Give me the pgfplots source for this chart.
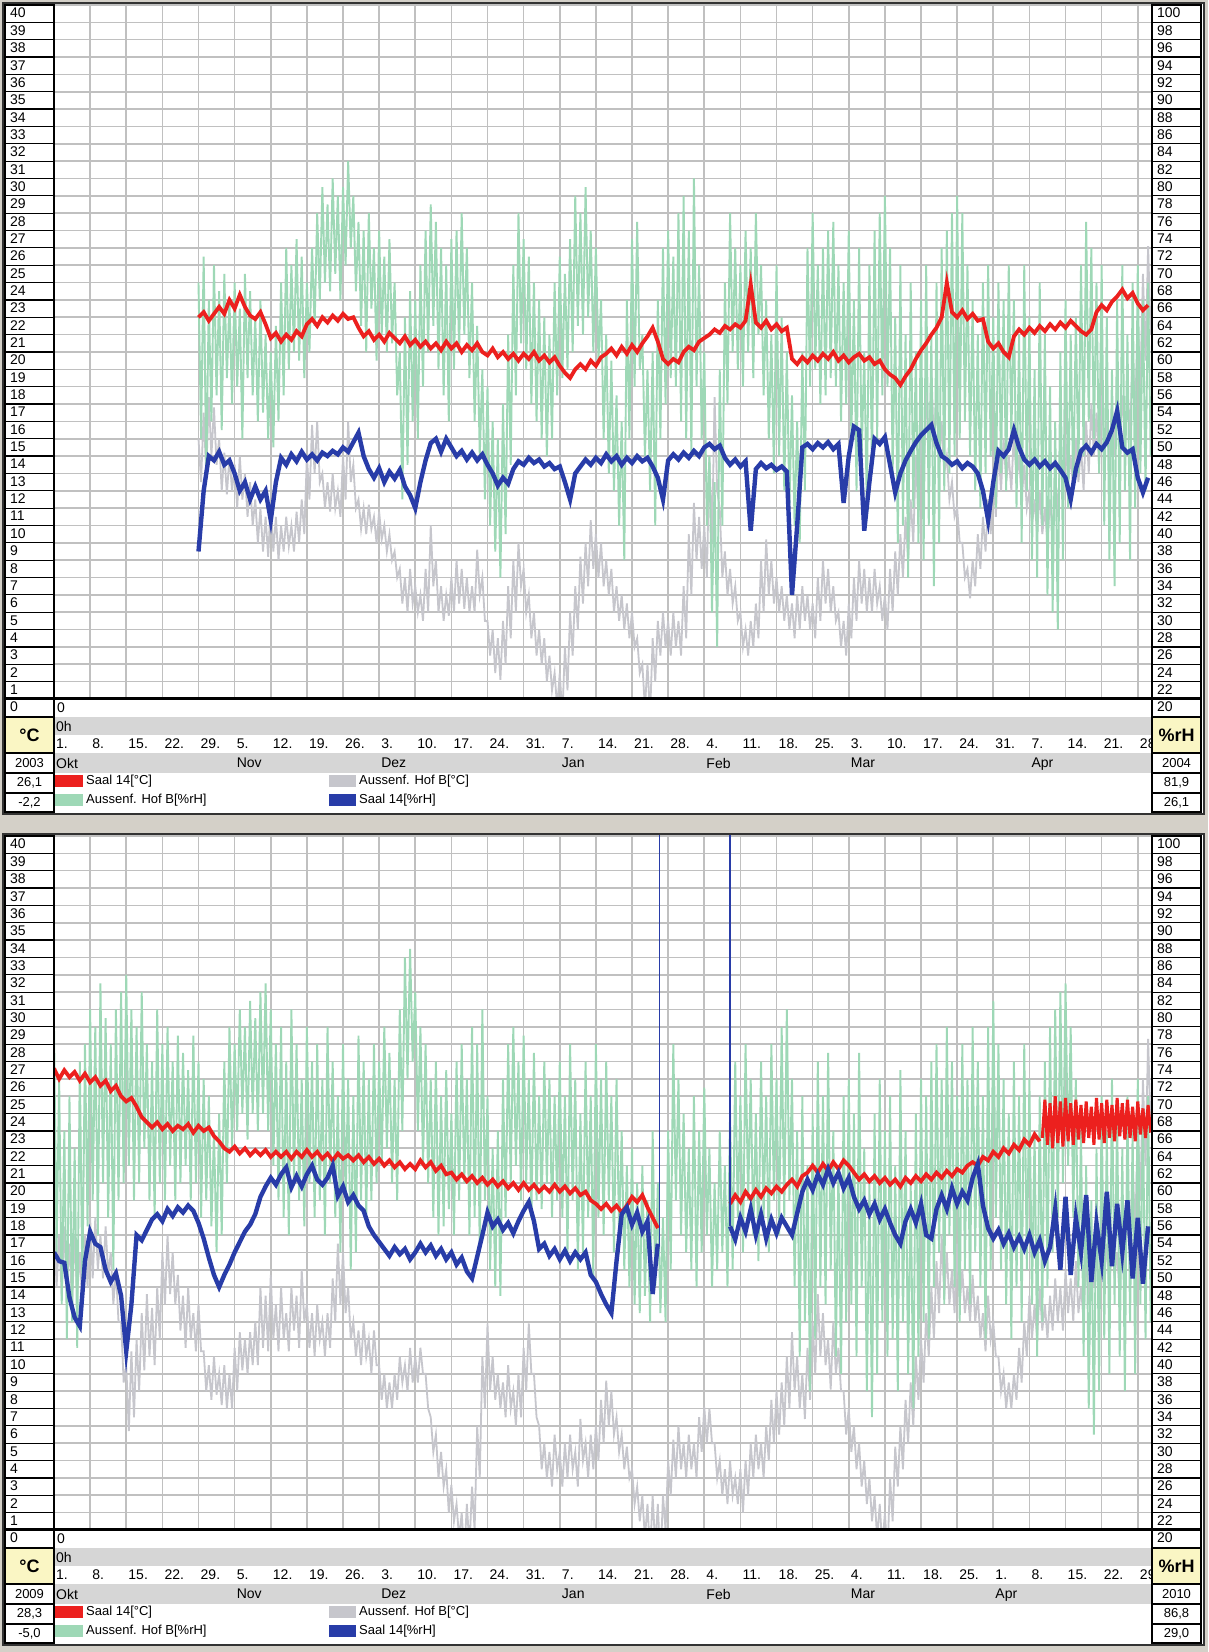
\documentclass[border=0pt]{standalone}
\usepackage{fontspec}
\setmainfont{Liberation Sans}
\usepackage{pgfplots}
\usepackage{pgfplotstable}
\pgfplotsset{compat=1.18}

\definecolor{winbg}{RGB}{212,208,200}
\definecolor{gridc}{RGB}{192,192,192}
\definecolor{stripc}{RGB}{214,214,214}
\definecolor{boxy}{RGB}{250,246,196}
\definecolor{cred}{RGB}{236,32,30}
\definecolor{cgreen}{RGB}{158,216,182}
\definecolor{cgray}{RGB}{198,198,204}
\definecolor{cblue}{RGB}{40,60,168}

\newcommand{\tfs}{\fontsize{14}{14}\selectfont}
\newcommand{\lfs}{\fontsize{13}{13}\selectfont}

% ---------- 2003/04 ----------
\pgfplotstableread[row sep=\\]{y\\
68\\50\\71\\46\\66\\52\\70\\55\\67\\51\\69\\57\\66\\54\\68\\56\\65\\50\\69\\57\\
67\\55\\64\\52\\66\\53\\62\\50\\60\\49\\63\\52\\68\\55\\72\\58\\70\\60\\73\\59\\
71\\57\\68\\60\\72\\63\\76\\66\\79\\68\\77\\67\\80\\69\\78\\66\\79\\70\\82\\72\\
78\\67\\75\\63\\74\\60\\76\\65\\72\\59\\74\\62\\71\\60\\73\\61\\68\\55\\60\\43\\
64\\47\\67\\52\\66\\50\\70\\56\\74\\60\\77\\63\\75\\58\\72\\55\\70\\52\\73\\58\\
74\\60\\76\\62\\72\\57\\68\\52\\63\\48\\58\\43\\56\\40\\52\\37\\50\\34\\54\\39\\
62\\47\\70\\55\\76\\61\\73\\58\\71\\54\\68\\52\\66\\50\\64\\48\\62\\50\\68\\55\\
71\\57\\69\\58\\73\\60\\78\\63\\76\\62\\79\\64\\74\\60\\72\\59\\66\\50\\62\\46\\
59\\44\\55\\40\\52\\36\\66\\50\\73\\56\\75\\58\\62\\48\\58\\44\\60\\40\\66\\50\\
72\\54\\74\\57\\71\\56\\76\\52\\78\\50\\74\\48\\80\\56\\70\\50\\60\\40\\48\\30\\
45\\26\\58\\40\\68\\54\\76\\60\\72\\58\\70\\56\\74\\60\\72\\57\\76\\62\\70\\55\\
66\\50\\62\\46\\70\\48\\64\\44\\60\\42\\55\\40\\52\\38\\60\\44\\72\\56\\76\\58\\
70\\54\\72\\55\\74\\57\\75\\56\\70\\52\\68\\54\\74\\50\\66\\44\\72\\48\\60\\42\\
70\\46\\74\\50\\76\\55\\78\\56\\72\\46\\64\\38\\70\\40\\62\\34\\68\\42\\60\\38\\
66\\36\\70\\40\\62\\33\\68\\38\\72\\44\\74\\46\\76\\48\\78\\50\\76\\52\\70\\48\\
66\\44\\62\\42\\68\\46\\70\\48\\64\\42\\68\\46\\66\\44\\70\\50\\66\\42\\62\\38\\
70\\44\\64\\36\\58\\34\\68\\40\\62\\32\\56\\30\\52\\28\\60\\36\\66\\42\\62\\44\\
64\\46\\70\\48\\75\\52\\72\\50\\68\\46\\70\\40\\64\\36\\58\\33\\66\\38\\70\\44\\
62\\36\\68\\42\\70\\46\\66\\44\\68\\48\\
}\topgreen

\pgfplotstableread[row sep=\\]{y\\
15.0\\12.5\\16.5\\13.0\\17.4\\14.0\\16.8\\13.5\\15.0\\12.0\\14.2\\11.8\\14.0\\12.0\\13.5\\11.0\\14.0\\11.5\\13.0\\10.5\\
12.5\\10.0\\11.5\\9.0\\11.0\\8.5\\10.5\\8.2\\11.3\\8.5\\10.5\\8.0\\10.0\\8.5\\10.5\\8.8\\10.0\\8.5\\10.8\\9.0\\
11.5\\9.5\\14.0\\11.5\\15.8\\13.0\\16.0\\12.5\\13.0\\11.0\\12.5\\10.8\\13.0\\11.0\\12.0\\10.5\\14.0\\11.5\\16.0\\12.5\\
13.5\\11.0\\11.5\\9.8\\11.0\\9.5\\11.2\\9.8\\10.5\\9.0\\10.8\\9.2\\10.0\\8.5\\9.5\\8.0\\8.5\\7.0\\7.5\\5.5\\
7.0\\5.0\\7.5\\5.5\\6.5\\5.0\\6.0\\4.5\\7.5\\5.0\\10.0\\6.5\\8.0\\5.0\\6.5\\4.5\\6.0\\4.8\\7.0\\5.0\\
8.0\\5.5\\7.5\\5.2\\7.0\\5.0\\6.5\\5.0\\8.6\\6.0\\7.0\\4.5\\4.5\\2.5\\4.0\\1.5\\3.5\\1.1\\4.5\\2.0\\
6.5\\3.5\\8.0\\5.0\\9.0\\6.5\\7.5\\5.0\\6.0\\3.5\\5.0\\2.5\\4.0\\2.0\\3.5\\1.0\\2.5\\0.5\\1.5\\-0.5\\
1.5\\-1.0\\3.0\\0.5\\5.0\\2.5\\6.5\\4.0\\8.2\\5.5\\9.0\\6.5\\10.3\\7.5\\9.5\\7.0\\9.0\\6.5\\8.0\\6.0\\
7.5\\5.0\\6.5\\4.5\\6.0\\4.0\\5.5\\3.5\\5.0\\3.0\\3.5\\1.5\\2.0\\-0.5\\2.0\\-1.0\\3.5\\1.0\\4.5\\2.5\\
5.0\\3.0\\4.5\\2.5\\5.0\\3.0\\4.5\\2.5\\6.5\\3.5\\9.5\\6.0\\11.3\\8.0\\10.5\\7.5\\10.0\\7.0\\14.0\\9.0\\
17.4\\12.0\\11.0\\7.0\\8.5\\6.0\\7.5\\5.5\\6.5\\4.5\\5.0\\3.0\\4.0\\2.5\\4.5\\3.0\\5.5\\3.5\\8.0\\5.0\\
9.2\\6.0\\8.0\\5.5\\7.0\\5.0\\6.5\\4.5\\6.0\\4.0\\5.5\\3.5\\6.0\\4.0\\6.5\\4.5\\6.0\\4.0\\5.5\\3.5\\
7.0\\4.5\\8.0\\5.5\\7.5\\5.0\\6.5\\4.5\\5.0\\3.0\\4.5\\2.5\\5.5\\3.5\\7.0\\4.5\\8.0\\5.5\\7.5\\5.0\\
7.0\\5.0\\7.5\\5.5\\6.5\\4.5\\6.0\\4.0\\7.5\\5.0\\8.5\\6.0\\9.5\\7.0\\10.5\\8.0\\11.5\\9.0\\14.0\\10.5\\
16.0\\12.5\\18.0\\14.0\\19.0\\14.5\\17.5\\13.5\\16.0\\13.0\\14.0\\11.5\\12.5\\10.5\\11.0\\9.0\\9.0\\7.0\\7.5\\5.8\\
8.0\\6.5\\9.5\\7.5\\10.5\\8.5\\11.5\\9.5\\13.0\\10.5\\14.5\\12.0\\15.0\\12.5\\14.0\\12.0\\15.5\\12.5\\14.0\\11.5\\
13.5\\11.0\\12.0\\10.0\\11.5\\9.5\\12.0\\9.5\\11.0\\9.0\\11.5\\9.5\\13.0\\10.5\\14.5\\12.0\\15.0\\12.5\\14.0\\12.0\\
15.0\\12.5\\14.5\\12.0\\16.0\\13.0\\17.0\\14.0\\16.5\\13.5\\17.5\\14.5\\16.0\\13.5\\17.0\\14.0\\18.5\\15.0\\17.5\\14.5\\
18.0\\15.0\\20.0\\16.5\\22.0\\18.0\\24.5\\19.5\\26.1\\21.0\\
}\topgray

\pgfplotstableread[row sep=\\]{y\\
22.0\\22.3\\21.8\\22.2\\22.6\\22.2\\23.0\\22.5\\23.3\\22.6\\
22.1\\21.9\\22.3\\21.6\\20.8\\21.1\\20.6\\21.0\\20.7\\21.2\\
20.9\\21.6\\21.9\\21.5\\22.0\\21.7\\22.1\\21.8\\22.2\\21.9\\
22.0\\21.4\\20.9\\21.2\\20.7\\21.0\\20.6\\21.1\\20.8\\20.5\\
20.9\\20.4\\20.7\\20.3\\20.6\\20.2\\20.5\\20.1\\20.6\\20.2\\
20.5\\20.0\\20.4\\20.1\\20.5\\20.0\\19.8\\20.2\\19.7\\20.0\\
19.6\\19.9\\19.5\\19.9\\19.6\\20.0\\19.5\\19.8\\19.4\\19.7\\
19.2\\18.8\\18.5\\19.0\\19.3\\19.0\\19.5\\19.2\\19.7\\19.9\\
20.2\\19.8\\20.3\\19.9\\20.4\\20.0\\20.5\\20.9\\21.4\\20.6\\
19.6\\19.3\\19.6\\19.4\\20.0\\20.3\\20.1\\20.6\\20.8\\21.0\\
21.3\\21.1\\21.5\\21.3\\21.6\\21.4\\21.8\\23.9\\21.7\\21.4\\
21.8\\21.3\\21.6\\21.2\\21.4\\19.6\\19.3\\19.7\\19.4\\19.8\\
19.5\\19.9\\19.6\\20.0\\19.5\\19.8\\19.4\\19.7\\19.9\\19.5\\
19.7\\19.3\\19.5\\19.0\\18.7\\18.5\\18.1\\18.6\\19.0\\19.6\\
20.1\\20.5\\21.0\\21.4\\22.0\\24.0\\22.3\\22.0\\22.4\\21.9\\
22.2\\21.8\\21.9\\20.6\\20.2\\20.5\\20.0\\19.7\\20.9\\21.3\\
21.0\\21.4\\21.1\\21.5\\21.2\\21.6\\21.3\\21.7\\21.4\\21.8\\
21.5\\21.2\\21.0\\21.3\\22.3\\22.7\\22.4\\22.9\\23.2\\23.6\\
23.1\\23.4\\22.8\\22.4\\22.7\\
}\topred

\pgfplotstableread[row sep=\\]{y\\
37\\44\\48\\47.5\\48.5\\47\\47.5\\46\\44\\45\\
43\\44.5\\43\\44\\40.6\\45\\47.8\\47\\48.2\\47.4\\
48.5\\47.6\\48.2\\47.5\\48.4\\48\\48.6\\48.2\\49\\48.5\\
49.6\\50.7\\48\\46.5\\45.5\\46.6\\45\\46.2\\45.4\\46.4\\
44.5\\43.5\\42\\45\\47.5\\49.5\\50\\48.5\\50\\49\\
48\\48.6\\47.6\\48.4\\47.5\\48.2\\47\\46\\44.6\\45.5\\
44.8\\46.5\\47.4\\47\\47.8\\47.2\\47.6\\46.8\\47.2\\46.5\\
46.8\\45\\43\\46\\46.8\\47.6\\47\\47.8\\47.2\\48.2\\
47.4\\48\\47\\47.8\\47.2\\48\\47.4\\47.8\\46.8\\45.5\\
43\\47.5\\48.2\\47.6\\48.4\\47.8\\48.6\\48\\49\\49.4\\
48.8\\49.2\\47.8\\47\\47.6\\46.8\\47.4\\39.4\\46.5\\47.2\\
46.6\\47\\46.4\\46.8\\46.2\\32\\40\\49\\49.4\\48.8\\
49.5\\49\\49.6\\48.8\\49.4\\42.6\\48\\51.4\\51\\39.4\\
45\\50\\49.4\\50.2\\47\\43.8\\46\\47.5\\48.6\\49.6\\
50.4\\51\\51.6\\49.5\\48\\47.6\\47\\47.4\\46.6\\47.2\\
46.8\\46\\44\\40.6\\45\\48.6\\48\\48.8\\51\\49\\
47.6\\47\\47.6\\46.8\\47.4\\46.6\\47.2\\46.4\\45.5\\43\\
46.5\\48.6\\49.2\\48.4\\49.4\\48.8\\49.6\\51\\53.2\\49\\
48.4\\48.8\\45.5\\43.8\\45.5\\
}\topblue

% ---------- 2009/10 ----------
\pgfplotstableread[row sep=\\]{y\\
78\\52\\72\\46\\66\\42\\70\\44\\64\\41\\74\\48\\76\\55\\80\\58\\78\\54\\83\\60\\
79\\56\\76\\50\\80\\58\\82\\60\\84\\62\\80\\58\\78\\60\\82\\64\\76\\58\\74\\56\\
80\\60\\76\\58\\78\\62\\74\\58\\77\\60\\75\\62\\73\\58\\77\\60\\74\\56\\72\\58\\
70\\55\\66\\52\\68\\54\\74\\60\\78\\64\\76\\66\\80\\68\\78\\65\\81\\68\\79\\66\\
82\\68\\83\\66\\80\\62\\76\\58\\78\\56\\74\\54\\80\\60\\76\\58\\72\\55\\78\\60\\
74\\56\\76\\58\\72\\54\\78\\60\\74\\56\\70\\52\\76\\58\\72\\50\\70\\52\\77\\58\\
74\\56\\72\\58\\76\\60\\74\\62\\78\\64\\75\\60\\72\\58\\80\\66\\86\\72\\87\\74\\
82\\66\\78\\62\\76\\60\\72\\56\\74\\54\\70\\55\\73\\57\\68\\54\\74\\58\\76\\60\\
72\\54\\78\\56\\76\\52\\80\\58\\70\\50\\64\\48\\66\\47\\72\\56\\76\\60\\78\\62\\
74\\58\\77\\60\\72\\56\\75\\58\\70\\57\\74\\60\\72\\56\\70\\58\\74\\56\\70\\52\\
76\\58\\72\\50\\68\\52\\74\\56\\70\\49\\76\\56\\72\\54\\74\\58\\70\\52\\72\\54\\
66\\50\\62\\48\\64\\46\\60\\45\\62\\47\\58\\44\\66\\48\\60\\45\\56\\44\\66\\50\\
76\\58\\72\\54\\68\\52\\64\\50\\70\\48\\66\\52\\71\\54\\64\\48\\60\\50\\66\\52\\
62\\48\\68\\50\\74\\56\\70\\52\\76\\58\\72\\54\\68\\51\\74\\56\\70\\52\\76\\58\\
72\\54\\78\\56\\80\\58\\72\\48\\66\\40\\70\\44\\62\\36\\68\\42\\74\\48\\70\\46\\
75\\50\\66\\40\\62\\38\\70\\44\\72\\46\\68\\40\\75\\48\\64\\36\\60\\33\\68\\38\\
72\\44\\66\\40\\70\\42\\62\\36\\73\\44\\66\\38\\60\\34\\68\\40\\72\\44\\70\\42\\
74\\48\\76\\52\\72\\46\\78\\54\\74\\48\\70\\44\\76\\50\\72\\46\\78\\52\\74\\48\\
70\\42\\78\\50\\81\\56\\76\\50\\72\\46\\68\\42\\74\\48\\70\\44\\76\\50\\72\\46\\
66\\40\\70\\44\\74\\48\\78\\52\\80\\56\\82\\60\\83\\62\\78\\56\\72\\48\\66\\40\\
62\\34\\58\\31\\64\\36\\70\\42\\66\\38\\72\\46\\68\\40\\64\\36\\70\\44\\66\\38\\
72\\46\\68\\42\\70\\44\\
}\botgreen

\pgfplotstableread[row sep=\\]{y\\
18.0\\14.0\\17.0\\13.5\\17.5\\14.0\\16.5\\13.0\\17.0\\13.5\\16.0\\13.0\\17.0\\14.0\\18.0\\14.5\\18.0\\15.0\\17.0\\14.5\\
17.5\\14.7\\16.0\\13.0\\15.0\\12.0\\12.0\\8.5\\9.5\\5.7\\10.3\\6.5\\11.0\\8.0\\12.5\\9.2\\13.6\\10.0\\12.8\\9.5\\
14.0\\11.0\\16.0\\13.0\\17.0\\13.6\\16.0\\13.0\\14.7\\11.5\\13.5\\10.5\\14.0\\11.0\\12.5\\10.3\\13.0\\10.3\\10.3\\8.0\\
9.5\\7.5\\10.0\\7.8\\9.0\\7.2\\9.5\\7.0\\9.0\\7.0\\10.5\\8.0\\11.4\\9.2\\11.0\\9.0\\11.4\\9.5\\12.0\\9.5\\
14.0\\10.5\\13.5\\10.3\\14.7\\11.0\\13.0\\10.3\\14.0\\11.0\\12.5\\10.3\\14.0\\11.5\\13.5\\10.5\\15.0\\12.0\\13.0\\10.5\\
12.5\\10.0\\13.0\\11.0\\12.0\\10.0\\12.5\\10.5\\14.5\\12.0\\16.5\\13.0\\16.0\\12.5\\14.0\\11.0\\12.0\\10.0\\11.5\\9.5\\
12.0\\10.0\\11.0\\9.0\\11.5\\9.5\\9.5\\7.5\\9.0\\7.0\\8.5\\7.0\\9.0\\7.5\\10.0\\8.5\\9.5\\8.0\\10.5\\8.5\\
10.0\\8.5\\10.5\\9.0\\9.0\\7.0\\6.5\\4.5\\5.5\\3.0\\4.5\\2.5\\3.5\\1.0\\2.6\\0.5\\1.5\\-0.5\\1.0\\-1.5\\
1.5\\-1.0\\2.5\\0.0\\6.0\\3.0\\10.0\\7.0\\11.9\\8.0\\10.0\\7.5\\9.0\\7.0\\8.5\\6.5\\9.5\\7.0\\8.0\\6.0\\
9.0\\6.5\\10.5\\8.0\\11.9\\9.0\\9.0\\6.5\\6.0\\3.5\\5.0\\3.0\\4.5\\2.5\\5.5\\3.5\\4.5\\2.5\\5.0\\3.0\\
5.5\\3.5\\4.5\\2.5\\6.4\\4.0\\5.0\\3.0\\5.5\\3.5\\6.0\\4.0\\7.5\\5.0\\8.6\\6.0\\8.0\\5.5\\6.5\\4.5\\
5.5\\3.5\\4.8\\3.0\\3.5\\1.5\\2.5\\0.5\\2.0\\-0.5\\1.5\\-1.5\\2.0\\-1.0\\1.5\\-2.0\\2.0\\0.0\\4.0\\2.0\\
5.2\\3.0\\6.0\\3.5\\5.0\\3.0\\5.5\\3.5\\5.0\\3.0\\6.5\\4.5\\7.1\\5.0\\7.0\\5.0\\5.0\\3.0\\4.0\\2.0\\
3.5\\1.5\\4.0\\2.0\\3.0\\1.5\\3.5\\1.0\\4.0\\2.0\\5.0\\3.0\\5.5\\3.5\\5.0\\3.0\\6.0\\4.0\\7.5\\5.0\\
8.0\\5.5\\8.5\\6.0\\10.0\\7.0\\11.4\\8.0\\10.0\\7.0\\9.0\\6.4\\10.5\\7.5\\12.0\\9.0\\13.6\\10.0\\12.5\\9.5\\
11.0\\8.1\\12.0\\9.0\\10.5\\8.0\\8.0\\5.5\\7.0\\4.5\\6.0\\3.5\\5.0\\2.5\\4.0\\1.5\\3.0\\0.5\\2.0\\-0.5\\
1.5\\-1.0\\1.0\\-1.5\\3.0\\0.5\\4.8\\2.5\\6.0\\3.5\\7.5\\5.0\\8.5\\6.0\\10.0\\7.5\\11.0\\8.5\\12.5\\10.0\\
14.0\\11.0\\15.5\\12.5\\17.0\\13.5\\16.0\\13.0\\15.0\\12.5\\16.5\\13.0\\15.0\\12.5\\14.0\\12.0\\14.7\\12.0\\13.5\\11.0\\
12.5\\10.3\\13.5\\11.0\\12.0\\10.0\\10.0\\8.0\\9.0\\7.0\\8.5\\7.0\\9.0\\7.5\\10.5\\8.5\\12.0\\10.0\\13.5\\11.0\\
13.0\\11.0\\14.0\\11.5\\13.0\\11.0\\13.5\\11.5\\14.5\\12.0\\14.0\\11.5\\15.0\\12.5\\14.5\\12.0\\15.5\\12.5\\14.0\\12.0\\
16.0\\13.0\\17.0\\14.0\\16.0\\13.5\\17.5\\14.5\\16.5\\14.0\\17.0\\14.5\\16.0\\13.5\\17.5\\14.5\\19.0\\16.0\\21.0\\17.0\\
23.5\\19.0\\26.0\\21.0\\28.3\\23.0\\
}\botgray

\pgfplotstableread[row sep=\\]{y\\
26.6\\26.0\\26.5\\26.1\\26.4\\25.9\\26.3\\25.8\\26.1\\25.6\\
25.9\\25.3\\25.6\\25.0\\24.7\\24.9\\24.4\\23.8\\23.5\\23.2\\
23.5\\23.1\\23.4\\23.0\\23.3\\23.1\\23.4\\22.9\\23.3\\23.0\\
23.2\\22.7\\22.4\\22.0\\21.8\\22.1\\21.7\\22.0\\21.6\\21.9\\
21.6\\21.9\\21.5\\21.8\\21.5\\21.8\\21.4\\21.8\\21.5\\21.9\\
21.5\\21.8\\21.4\\21.7\\21.3\\21.7\\21.4\\21.6\\21.3\\21.6\\
21.2\\21.5\\21.1\\21.4\\21.0\\21.3\\20.9\\21.2\\20.8\\21.1\\
20.8\\21.3\\20.9\\21.2\\20.7\\21.0\\20.5\\20.6\\20.2\\20.5\\
20.1\\20.4\\20.0\\20.3\\19.9\\20.2\\19.8\\20.1\\19.7\\20.0\\
19.6\\20.0\\19.6\\19.9\\19.5\\19.8\\19.5\\19.9\\19.5\\19.8\\
19.4\\19.7\\19.3\\19.5\\19.0\\18.8\\18.5\\18.8\\18.4\\18.7\\
18.3\\18.7\\19.2\\18.9\\19.3\\18.6\\18.0\\17.4\\
}\botredA

\pgfplotstableread[row sep=\\]{y\\
18.8\\19.3\\18.9\\19.5\\19.1\\19.6\\19.2\\19.7\\19.4\\19.8\\
19.5\\19.9\\20.2\\19.8\\20.4\\20.6\\21.0\\20.6\\21.1\\20.7\\
21.2\\20.8\\21.3\\21.0\\20.6\\20.2\\20.5\\20.1\\20.4\\20.0\\
20.3\\19.9\\20.2\\19.8\\20.3\\20.0\\20.4\\20.1\\20.5\\20.2\\
20.6\\20.3\\20.7\\20.4\\20.8\\20.6\\21.0\\21.2\\21.0\\21.5\\
21.3\\21.8\\21.5\\22.0\\21.7\\22.2\\21.9\\22.5\\22.2\\22.8\\
22.4\\
}\botredB

% days 191.5 ... 212.5, half-day steps
\pgfplotstableread[row sep=\\]{y\\
22.6\\
24.8\\22.2\\24.6\\22.0\\25.0\\22.3\\24.7\\22.1\\24.9\\22.4\\
24.6\\22.2\\24.8\\22.5\\24.5\\22.3\\24.7\\22.6\\24.4\\22.2\\
24.9\\22.5\\24.6\\22.3\\24.8\\22.6\\24.5\\22.4\\24.9\\22.7\\
24.6\\22.5\\24.8\\22.6\\24.4\\22.4\\24.7\\22.8\\24.3\\22.6\\
24.5\\22.9\\
}\botredC

\pgfplotstableread[row sep=\\]{y\\
52\\51\\50.8\\46.8\\44.5\\43.5\\51\\54.4\\53\\52.6\\
50\\48.6\\49.6\\47\\40.6\\46\\54\\53.4\\54.6\\55.8\\
56.4\\55.6\\57\\56.2\\57.2\\56.6\\57.4\\56.8\\55.4\\53.6\\
51.4\\49.4\\48\\49.4\\50.6\\52\\53.2\\54.4\\55.2\\56.4\\
58.4\\59.6\\60.6\\59.8\\61\\61.8\\59.5\\60.8\\59.6\\61\\
62\\60.4\\59.8\\60.6\\62\\58.5\\59.6\\57.8\\58.6\\57.4\\
56.8\\55\\54\\53.2\\52.4\\51.6\\52.6\\51.8\\52.4\\51.2\\
52\\53\\52\\52.8\\51.6\\52.4\\51.2\\52\\50.6\\51.4\\
49.8\\49\\51.5\\54\\56.6\\55\\55.8\\54.6\\55.4\\54.2\\
55.6\\56.8\\57.8\\55.6\\52.4\\53\\51.6\\52.4\\51.2\\52.2\\
51\\52\\51.2\\52\\49.4\\48.6\\47.2\\46\\45\\51\\
56.4\\57.2\\55.2\\56.6\\54.4\\55.6\\47.2\\53\\
}\botblueA

\pgfplotstableread[row sep=\\]{y\\
55\\53.5\\56\\54.4\\57\\54\\56.4\\53.6\\55.8\\54.2\\
56\\55\\54\\56.5\\59\\60.4\\59.2\\61\\59.8\\61.6\\
60\\61.2\\59.4\\60.6\\58.4\\57\\58\\56.4\\57.6\\55.8\\
57\\55.4\\54\\53\\55.6\\57\\55.4\\57.6\\54\\53.6\\
57\\58.6\\57\\59.4\\57.6\\59\\58\\60.6\\62.2\\57.4\\
54.8\\53.6\\54.6\\53\\54.2\\52.6\\53.8\\52.4\\54\\52\\
53.4\\51\\52.6\\57\\50\\58.4\\49.4\\56\\52\\58.6\\
48.6\\55.4\\51\\59\\50.4\\57.6\\52\\58\\49\\56\\
48.4\\55\\
}\botblueB

\pgfplotsset{
 base/.style={scale only axis, width=1098pt, height=694pt, xmin=0, xmax=212.75,
   anchor=south west, axis line style={draw=none}, major tick length=0pt,
   /pgf/number format/assume math mode=true,
   tick label style={font=\tfs, inner sep=0pt}, clip=true},
 degax/.style={base, ymin=0, ymax=40},
 rhax/.style={base, ymin=20, ymax=100},
 notick/.style={xtick=\empty, ytick=\empty},
 gridax/.style={degax, ytick={0,...,40}, xtick={0,7,...,210}, grid=major,
   major grid style={gridc, line width=1.6pt},
   yticklabel style={anchor=north west, xshift=-44pt, yshift=-3pt},
   xticklabel style={anchor=north west, xshift=2pt, yshift=-40pt}},
 rhlab/.style={rhax, ytick={20,22,...,100}, yticklabel pos=right,
   yticklabel style={anchor=north west, xshift=5pt, yshift=-3pt},
   xticklabel style={anchor=north west, xshift=2pt, yshift=-59pt}},
 grayline/.style={cgray, line width=1.8pt},
 greenline/.style={cgreen, line width=1.9pt},
 redline/.style={cred, line width=3.8pt},
 blueline/.style={cblue, line width=4.4pt},
}

\newcommand{\panelbg}[1]{%
\begin{scope}[x=1pt,y=-1pt,shift={(0pt,1652pt)}]
\begin{scope}[shift={(0,#1)}]
\fill[white] (3,3) rectangle (1204,814);
\fill[stripc] (54,717) rectangle (1152,735);
\fill[stripc] (54,753) rectangle (1152,773);
\node[anchor=north west, inner sep=0pt, font=\tfs] at (57,703) {0};
\node[anchor=north west, inner sep=0pt, font=\tfs] at (56,721) {0h};
\end{scope}
\end{scope}}

\newcommand{\panelfg}[7]{%
\begin{scope}[x=1pt,y=-1pt,shift={(0pt,1652pt)}]
\begin{scope}[shift={(0,#1)}]
\foreach \v in {1,...,40}{%
 \draw[line width=1.2pt] (5,{699-17.35*\v}) rectangle (54,{699-17.35*(\v-1)});
 \draw[line width=1.2pt] (1152,{699-17.35*\v}) rectangle (1201,{699-17.35*(\v-1)});}
\draw[line width=1.2pt] (5,699) rectangle (54,717);
\draw[line width=1.2pt] (1152,699) rectangle (1201,717);
\draw[line width=1.2pt, fill=boxy] (5,717) rectangle (54,753);
\draw[line width=1.2pt, fill=boxy] (1152,717) rectangle (1201,753);
\node[font=\fontsize{18}{18}\selectfont\bfseries] at (29.5,735) {°C};
\node[font=\fontsize{18}{18}\selectfont\bfseries] at (1176.5,735) {\%rH};
\draw[line width=1.2pt] (5,753) rectangle (54,773);
\draw[line width=1.2pt] (1152,753) rectangle (1201,773);
\draw[line width=1.2pt] (5,773) rectangle (54,793);
\draw[line width=1.2pt] (1152,773) rectangle (1201,793);
\draw[line width=1.2pt] (5,793) rectangle (54,812);
\draw[line width=1.2pt] (1152,793) rectangle (1201,812);
\node[font=\lfs] at (29.5,763) {#2};
\node[font=\lfs] at (1176.5,763) {#3};
\node[font=\lfs] at (29.5,783) {#4};
\node[font=\lfs] at (29.5,802.5) {#5};
\node[font=\lfs] at (1176.5,783) {#6};
\node[font=\lfs] at (1176.5,802.5) {#7};
\fill[cred] (55,775) rectangle (83,787);
\fill[cgreen] (55,794) rectangle (83,806);
\fill[cgray] (329,775) rectangle (356,787);
\fill[cblue] (329,794) rectangle (356,806);
\node[anchor=west, font=\lfs, inner sep=0pt] at (86,781) {Saal 14[°C]};
\node[anchor=west, font=\lfs, inner sep=0pt] at (86,800) {Aussenf. Hof B[\%rH]};
\node[anchor=west, font=\lfs, inner sep=0pt] at (359,781) {Aussenf. Hof B[°C]};
\node[anchor=west, font=\lfs, inner sep=0pt] at (359,800) {Saal 14[\%rH]};
\draw[line width=2.2pt] (5,4) rectangle (54,812);
\draw[line width=2.2pt] (1152,4) rectangle (1201,812);
\draw[line width=3pt] (5,699) -- (1201,699);
\draw[line width=2pt, black!80] (3,3) rectangle (1204,814);
\end{scope}
\end{scope}}

\begin{document}
\begin{tikzpicture}
\fill[winbg] (0pt,0pt) rectangle (1208pt,1652pt);
\panelbg{0}
\panelbg{831}

% ===== top panel 2003/2004 =====
\begin{axis}[gridax, at={(54pt,953pt)},
  xticklabels={1.,8.,15.,22.,29.,5.,12.,19.,26.,3.,10.,17.,24.,31.,7.,14.,21.,28.,4.,11.,18.,25.,3.,10.,17.,24.,31.,7.,14.,21.,28.}]
\addplot[grayline] table[x expr=\coordindex*0.5+28, y=y] {\topgray};
\end{axis}
\begin{axis}[rhlab, at={(54pt,953pt)}, xtick={0,35,63,98,126,154,189},
  xticklabels={Okt,Nov,Dez,Jan,Feb,Mar,Apr}]
\addplot[greenline] table[x expr=\coordindex*0.5+28, y=y] {\topgreen};
\end{axis}
\begin{axis}[degax, notick, at={(54pt,953pt)}]
\addplot[redline] table[x expr=\coordindex+28, y=y] {\topred};
\end{axis}
\begin{axis}[rhax, notick, at={(54pt,953pt)}]
\addplot[blueline] table[x expr=\coordindex+28, y=y] {\topblue};
\end{axis}

% ===== bottom panel 2009/2010 =====
\begin{axis}[gridax, at={(54pt,122pt)},
  xticklabels={1.,8.,15.,22.,29.,5.,12.,19.,26.,3.,10.,17.,24.,31.,7.,14.,21.,28.,4.,11.,18.,25.,4.,11.,18.,25.,1.,8.,15.,22.,29.}]
\addplot[grayline] table[x expr=\coordindex*0.5, y=y] {\botgray};
\end{axis}
\begin{axis}[rhlab, at={(54pt,122pt)}, xtick={0,35,63,98,126,154,182},
  xticklabels={Okt,Nov,Dez,Jan,Feb,Mar,Apr}]
\addplot[greenline] table[x expr=\coordindex*0.5, y=y] {\botgreen};
\end{axis}
\begin{axis}[degax, notick, at={(54pt,122pt)}]
\addplot[redline] table[x expr=\coordindex, y=y] {\botredA};
\addplot[redline] table[x expr=\coordindex+131, y=y] {\botredB};
\addplot[redline, line width=3pt] table[x expr=\coordindex*0.5+191.5, y=y] {\botredC};
\end{axis}
\begin{axis}[rhax, notick, at={(54pt,122pt)}]
\addplot[blueline] table[x expr=\coordindex, y=y] {\botblueA};
\addplot[blueline] table[x expr=\coordindex+131, y=y] {\botblueB};
\addplot[cblue, line width=1.4pt] coordinates {(117.3,53) (117.3,120)};
\addplot[cblue, line width=1.4pt] coordinates {(131,120) (131,55)};
\end{axis}

\panelfg{0}{2003}{2004}{26,1}{-2,2}{81,9}{26,1}
\panelfg{831}{2009}{2010}{28,3}{-5,0}{86,8}{29,0}
\end{tikzpicture}
\end{document}
